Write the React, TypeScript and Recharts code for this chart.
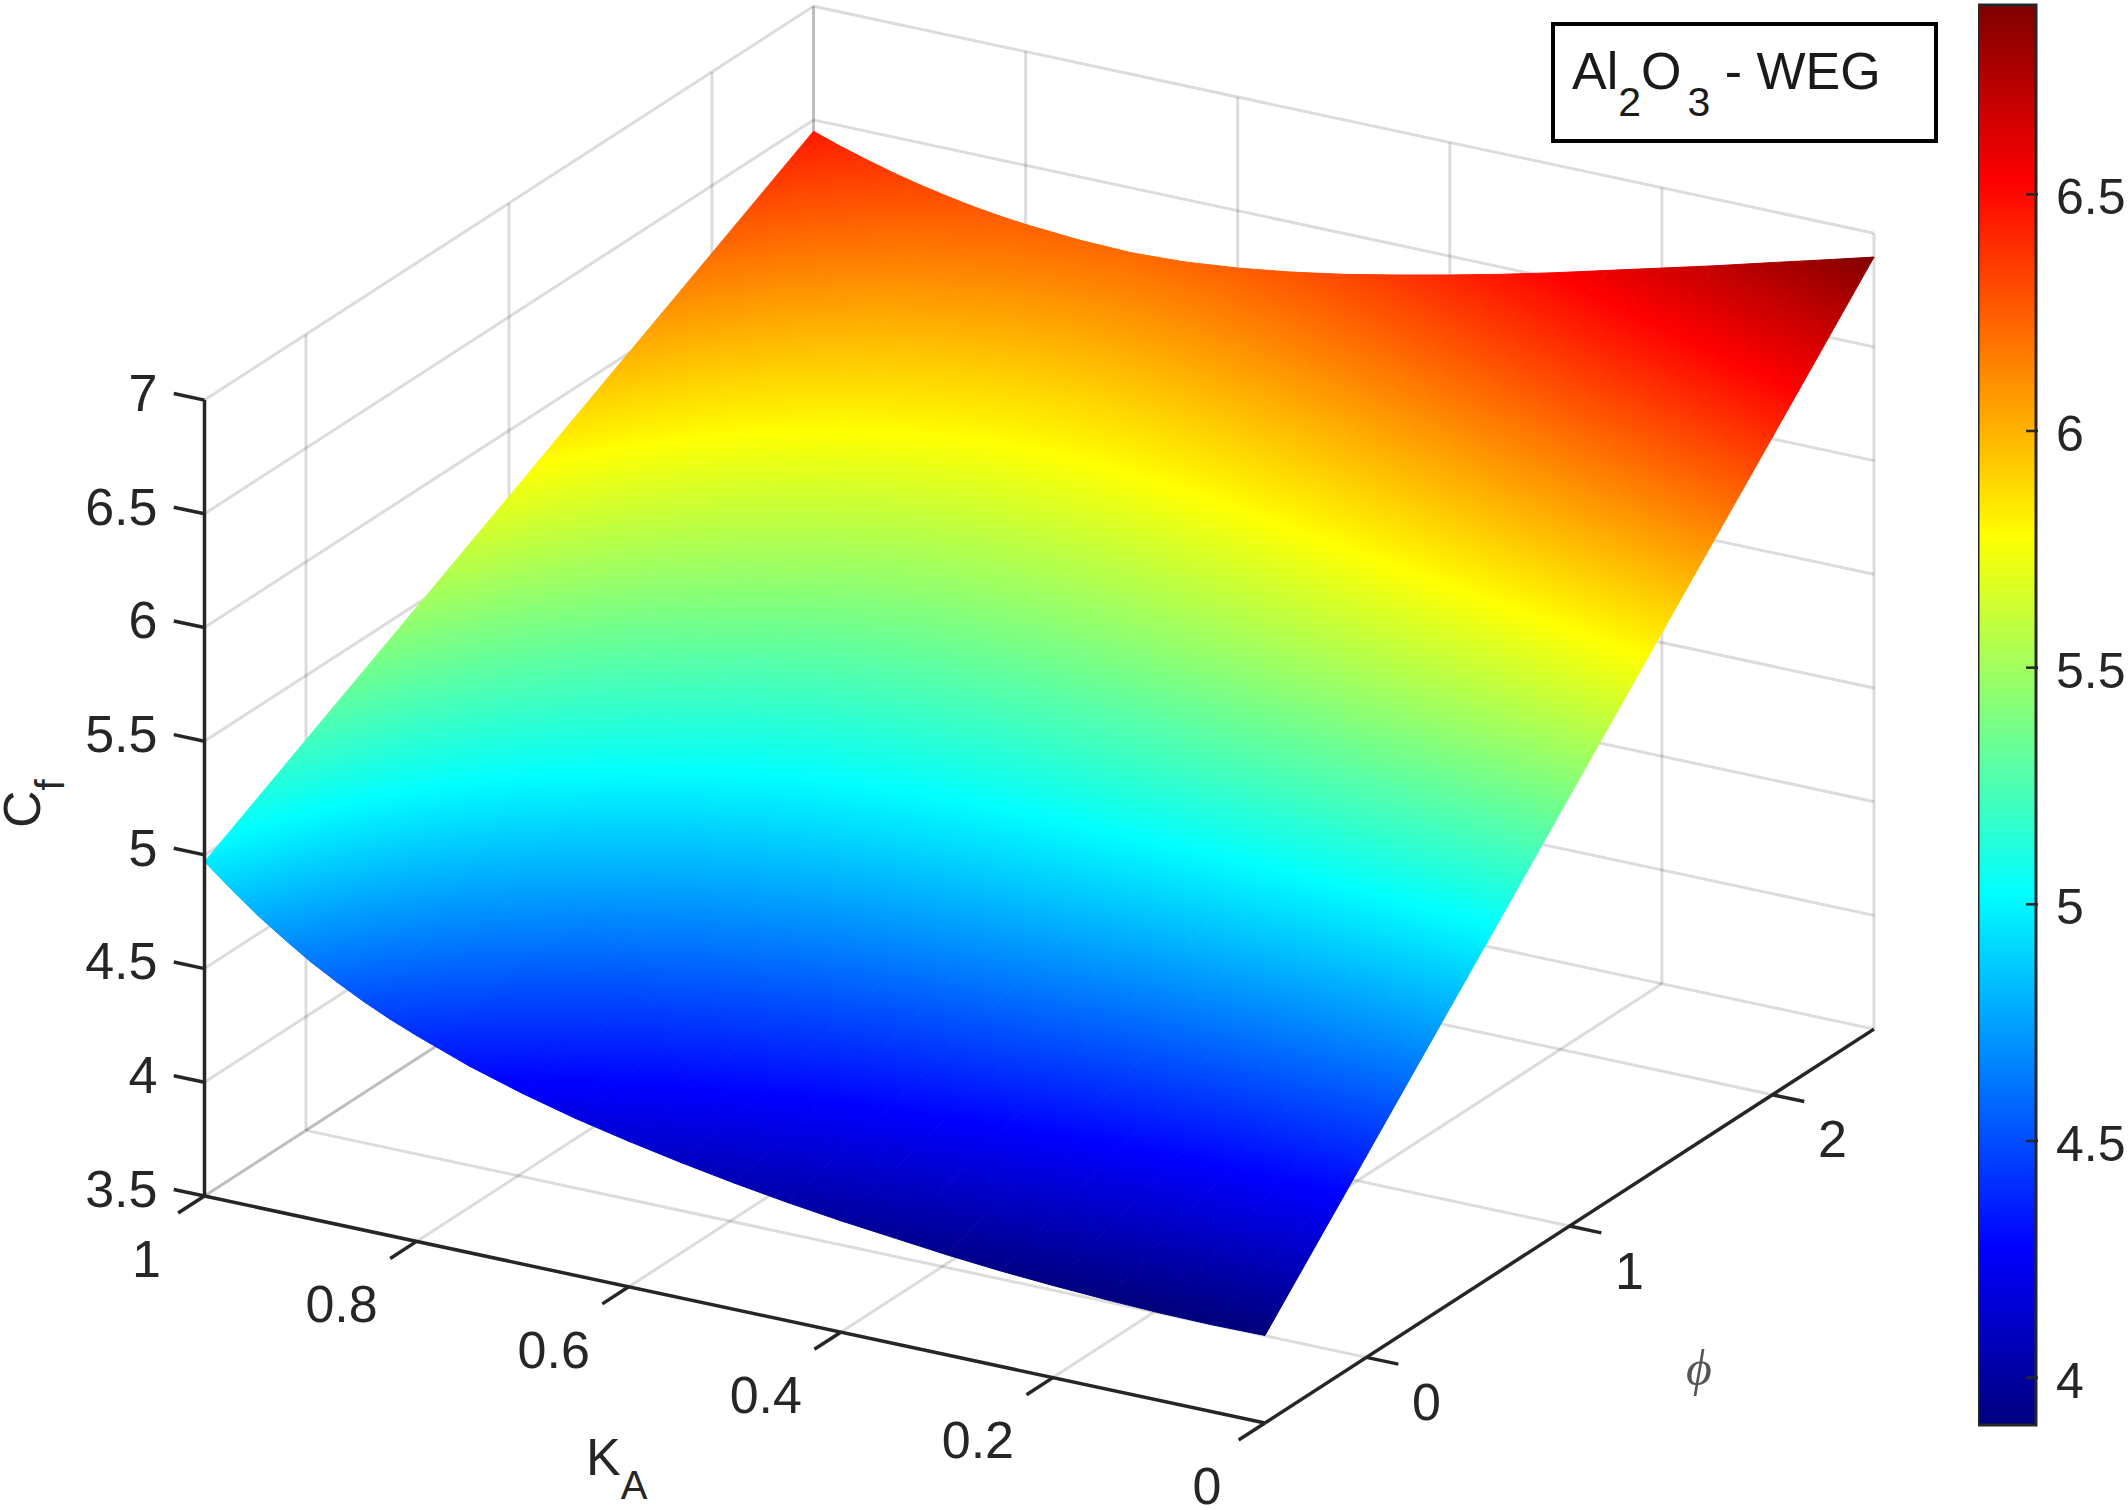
import React from "react";
import { Bar, ComposedChart, Scatter, XAxis, YAxis } from "recharts";

// grid the surface is sampled on, tighter near KA = 1 where the edges bend most
const KA_VALUES = [
  1, 0.975, 0.95, 0.925, 0.9, 0.875, 0.85, 0.825, 0.8, 0.75, 0.7, 0.65, 0.6, 0.55, 0.5, 0.45, 0.4, 0.35, 0.3, 0.25, 0.2,
  0.15, 0.1, 0.05, 0,
];
const PHI_VALUES = [-0.5, 0, 0.5, 1, 1.5, 2, 2.5];

// Cf, one list per phi, ordered like KA_VALUES
const CF_PHI_M05 = [
  4.97, 4.875, 4.785, 4.705, 4.63, 4.565, 4.505, 4.452, 4.405, 4.32, 4.25, 4.19, 4.14, 4.095, 4.055, 4.02, 3.99, 3.965,
  3.94, 3.92, 3.905, 3.893, 3.885, 3.882, 3.885,
];
const CF_PHI_0 = [
  5.217, 5.136, 5.059, 4.992, 4.929, 4.875, 4.825, 4.78, 4.741, 4.667, 4.608, 4.559, 4.521, 4.489, 4.463, 4.441, 4.425,
  4.41, 4.395, 4.385, 4.377, 4.372, 4.373, 4.377, 4.387,
];
const CF_PHI_05 = [
  5.463, 5.396, 5.333, 5.278, 5.228, 5.183, 5.144, 5.108, 5.077, 5.014, 4.965, 4.928, 4.903, 4.883, 4.87, 4.862, 4.859,
  4.854, 4.85, 4.848, 4.849, 4.852, 4.86, 4.871, 4.888,
];
const CF_PHI_1 = [
  5.71, 5.651, 5.595, 5.546, 5.503, 5.464, 5.431, 5.399, 5.373, 5.321, 5.283, 5.258, 5.244, 5.238, 5.238, 5.244, 5.254,
  5.263, 5.274, 5.287, 5.301, 5.318, 5.339, 5.362, 5.39,
];
const CF_PHI_15 = [
  5.957, 5.901, 5.851, 5.806, 5.765, 5.73, 5.699, 5.672, 5.648, 5.608, 5.58, 5.567, 5.565, 5.572, 5.585, 5.605, 5.628,
  5.653, 5.681, 5.711, 5.743, 5.776, 5.812, 5.851, 5.892,
];
const CF_PHI_2 = [
  6.203, 6.154, 6.11, 6.07, 6.034, 6.003, 5.976, 5.953, 5.934, 5.905, 5.888, 5.886, 5.897, 5.916, 5.943, 5.976, 6.013,
  6.053, 6.096, 6.143, 6.19, 6.238, 6.289, 6.34, 6.393,
];
const CF_PHI_25 = [
  6.45, 6.41, 6.375, 6.343, 6.315, 6.291, 6.27, 6.253, 6.24, 6.222, 6.215, 6.225, 6.248, 6.28, 6.32, 6.367, 6.417, 6.47,
  6.527, 6.587, 6.647, 6.707, 6.77, 6.832, 6.895,
];
const CF_ROWS = [CF_PHI_M05, CF_PHI_0, CF_PHI_05, CF_PHI_1, CF_PHI_15, CF_PHI_2, CF_PHI_25];

const KA_TICKS = [1, 0.8, 0.6, 0.4, 0.2, 0];
const PHI_TICKS = [0, 1, 2];
const CF_TICKS = [3.5, 4, 4.5, 5, 5.5, 6, 6.5, 7];
const BAR_TICKS = [4, 4.5, 5, 5.5, 6, 6.5];
const BAR_RANGE = [3.9, 6.9];

const JET = [
  [0, "#00007f"],
  [0.125, "#0000ff"],
  [0.375, "#00ffff"],
  [0.625, "#ffff00"],
  [0.875, "#ff0000"],
  [1, "#7f0000"],
];

const W = 2128;
const H = 1510;
const INK = "#262626";
const FONT = "Liberation Sans";
const PHI_MIN = -0.5;
const PHI_MAX = 2.5;
const CF_MIN = 3.5;
const CF_MAX = 7;

// orthographic view of the 3d box, pixels per data unit
function project(ka: number, phi: number, cf: number) {
  return {
    sx: 204.5 + (1 - ka) * 1060.5 + (phi - PHI_MIN) * 203,
    sy: 1196 + (1 - ka) * 227 - (phi - PHI_MIN) * 131.3 - (cf - CF_MIN) * 227.4,
  };
}

const meshPoints = PHI_VALUES.flatMap((phi, i) =>
  KA_VALUES.map((ka, j) => ({ ...project(ka, phi, CF_ROWS[i][j]), cf: CF_ROWS[i][j] })),
);

// pairs of end points, every two entries make one segment
const pair = (a: number[], b: number[]) => [project(a[0], a[1], a[2]), project(b[0], b[1], b[2])];

const gridSegments = [
  ...CF_TICKS.flatMap((cf) => [
    ...pair([1, PHI_MIN, cf], [1, PHI_MAX, cf]),
    ...pair([1, PHI_MAX, cf], [0, PHI_MAX, cf]),
  ]),
  ...PHI_TICKS.flatMap((phi) => [
    ...pair([1, phi, CF_MIN], [1, phi, CF_MAX]),
    ...pair([1, phi, CF_MIN], [0, phi, CF_MIN]),
  ]),
  ...KA_TICKS.flatMap((ka) => [
    ...pair([ka, PHI_MAX, CF_MIN], [ka, PHI_MAX, CF_MAX]),
    ...pair([ka, PHI_MIN, CF_MIN], [ka, PHI_MAX, CF_MIN]),
  ]),
  ...pair([1, PHI_MAX, CF_MIN], [1, PHI_MAX, CF_MAX]),
];

const axisSegments = [
  ...pair([1, PHI_MIN, CF_MIN], [1, PHI_MIN, CF_MAX]),
  ...pair([1, PHI_MIN, CF_MIN], [0, PHI_MIN, CF_MIN]),
  ...pair([0, PHI_MIN, CF_MIN], [0, PHI_MAX, CF_MIN]),
  ...CF_TICKS.flatMap((cf) => pair([1, PHI_MIN, cf], [1.029, PHI_MIN, cf])),
  ...KA_TICKS.flatMap((ka) => pair([ka, PHI_MIN, CF_MIN], [ka, PHI_MIN - 0.13, CF_MIN])),
  ...PHI_TICKS.flatMap((phi) => pair([0, phi, CF_MIN], [-0.03, phi, CF_MIN])),
];

const shifted = (p: { sx: number; sy: number }, dx: number, dy: number) => ({ sx: p.sx + dx, sy: p.sy + dy });

const tickLabels = [
  ...CF_TICKS.map((cf) => ({
    ...shifted(project(1, PHI_MIN, cf), -47, -8),
    text: String(cf),
    anchor: "end",
  })),
  ...KA_TICKS.map((ka) => ({
    ...shifted(project(ka, PHI_MIN, CF_MIN), ka === 1 || ka === 0 ? -58 : -75, 62),
    text: String(ka),
    anchor: "middle",
  })),
  ...PHI_TICKS.map((phi) => ({
    ...shifted(project(0, phi, CF_MIN), 60, 44),
    text: String(phi),
    anchor: "middle",
  })),
];

const titles = [
  { sx: 586, sy: 1475, main: "K", sub: "A", rotate: 0 },
  { sx: 40, sy: 828, main: "C", sub: "f", rotate: -90 },
];
const phiTitle = [{ sx: 1699, sy: 1370, text: "ϕ" }];

const barData = [{ name: "Cf", range: BAR_RANGE }];

const noSymbol = () => <g />;

function SegmentLines({ points, color, width, opacity = 1 }: any) {
  const lines = [];
  for (let i = 0; i + 1 < points.length; i += 2) {
    lines.push(
      <line
        key={i}
        x1={points[i].x}
        y1={points[i].y}
        x2={points[i + 1].x}
        y2={points[i + 1].y}
        stroke={color}
        strokeOpacity={opacity}
        strokeWidth={width}
        strokeLinecap="butt"
      />,
    );
  }
  return <g>{lines}</g>;
}

// one linear gradient per triangle: Cf is linear on a triangle, so the colormap can
// be laid out exactly along its screen-space slope and neighbours line up
function triangleGradient(id: string, tri: { x: number; y: number; cf: number }[]) {
  const [p, q, r] = tri;
  const det = (q.x - p.x) * (r.y - p.y) - (r.x - p.x) * (q.y - p.y);
  const a = ((q.cf - p.cf) * (r.y - p.y) - (r.cf - p.cf) * (q.y - p.y)) / det;
  const b = ((q.x - p.x) * (r.cf - p.cf) - (r.x - p.x) * (q.cf - p.cf)) / det;
  const g2 = a * a + b * b;
  const at = (v: number) => ({
    x: p.x + (a * (v - p.cf)) / g2,
    y: p.y + (b * (v - p.cf)) / g2,
  });
  const start = at(BAR_RANGE[0]);
  const end = at(BAR_RANGE[1]);
  return (
    <linearGradient
      key={id}
      id={id}
      href="#jetMap"
      gradientUnits="userSpaceOnUse"
      x1={start.x}
      y1={start.y}
      x2={end.x}
      y2={end.y}
    />
  );
}

function SurfaceMesh({ points }: any) {
  const nKa = KA_VALUES.length;
  const nodes = points.map((pt: any, i: number) => ({ x: pt.x, y: pt.y, cf: meshPoints[i].cf }));
  const defs: any[] = [];
  const polys: any[] = [];
  for (let i = 0; i + 1 < PHI_VALUES.length; i++) {
    for (let j = 0; j + 1 < nKa; j++) {
      const a = nodes[i * nKa + j];
      const b = nodes[i * nKa + j + 1];
      const c = nodes[(i + 1) * nKa + j + 1];
      const d = nodes[(i + 1) * nKa + j];
      [
        [a, b, c],
        [a, c, d],
      ].forEach((tri, k) => {
        const id = `tri-${i}-${j}-${k}`;
        defs.push(triangleGradient(id, tri));
        polys.push(
          <polygon
            key={id}
            points={tri.map((n) => `${n.x},${n.y}`).join(" ")}
            fill={`url(#${id})`}
            stroke={`url(#${id})`}
            strokeWidth={1}
            strokeLinejoin="round"
          />,
        );
      });
    }
  }
  return (
    <g>
      <defs>{defs}</defs>
      {polys}
    </g>
  );
}

function TickText({ cx, cy, payload }: any) {
  return (
    <text x={cx} y={cy} dy="0.36em" textAnchor={payload.anchor} fontFamily={FONT} fontSize={52} fill={INK}>
      {payload.text}
    </text>
  );
}

function TitleText({ cx, cy, payload }: any) {
  return (
    <text
      x={cx}
      y={cy}
      fontFamily={FONT}
      fontSize={52}
      fill={INK}
      transform={payload.rotate ? `rotate(${payload.rotate} ${cx} ${cy})` : undefined}
    >
      {payload.main}
      <tspan fontSize={40} dy={24}>
        {payload.sub}
      </tspan>
    </text>
  );
}

function PhiText({ cx, cy, payload }: any) {
  return (
    <text
      x={cx}
      y={cy}
      dy="0.3em"
      textAnchor="middle"
      fontFamily="Liberation Serif"
      fontStyle="italic"
      fontSize={50}
      fill="#555555"
    >
      {payload.text}
    </text>
  );
}

function BarTick({ x, y, payload }: any) {
  return (
    <g>
      <line x1={x - 12} y1={y} x2={x} y2={y} stroke={INK} strokeWidth={2.5} />
      <text x={x + 18} y={y + 2} dy="0.36em" fontFamily={FONT} fontSize={50} fill={INK}>
        {payload.value}
      </text>
    </g>
  );
}

function ColorBar() {
  return (
    <ComposedChart
      width={150}
      height={H}
      data={barData}
      margin={{ top: 5, right: 0, bottom: 85, left: 0 }}
      barCategoryGap={0}
    >
      <defs>
        <linearGradient id="jetBar" x1="0" y1="1" x2="0" y2="0">
          {JET.map(([o, c]) => (
            <stop key={o} offset={o} stopColor={c as string} />
          ))}
        </linearGradient>
      </defs>
      <XAxis dataKey="name" hide />
      <Bar dataKey="range" fill="url(#jetBar)" stroke={INK} strokeWidth={3} isAnimationActive={false} />
      <YAxis
        orientation="right"
        type="number"
        width={92}
        domain={BAR_RANGE}
        ticks={BAR_TICKS}
        tick={<BarTick />}
        tickLine={false}
        axisLine={false}
        tickSize={0}
        interval={0}
      />
    </ComposedChart>
  );
}

export default function App() {
  return (
    <div style={{ position: "absolute", left: 0, top: 0, width: W, height: H, background: "#fff", overflow: "hidden" }}>
      <ComposedChart width={W} height={H} margin={{ top: 0, right: 0, bottom: 0, left: 0 }}>
        <defs>
          <linearGradient id="jetMap">
            {JET.map(([o, c]) => (
              <stop key={o} offset={o} stopColor={c as string} />
            ))}
          </linearGradient>
        </defs>
        <XAxis type="number" dataKey="sx" domain={[0, W]} hide />
        <YAxis type="number" dataKey="sy" domain={[0, H]} reversed hide />
        <Scatter
          data={gridSegments}
          shape={noSymbol}
          line={(p: any) => <SegmentLines points={p.points} color={INK} opacity={0.16} width={3} />}
          isAnimationActive={false}
        />
        <Scatter
          data={meshPoints}
          shape={noSymbol}
          line={(p: any) => <SurfaceMesh points={p.points} />}
          isAnimationActive={false}
        />
        <Scatter
          data={axisSegments}
          shape={noSymbol}
          line={(p: any) => <SegmentLines points={p.points} color={INK} width={3.5} />}
          isAnimationActive={false}
        />
        <Scatter data={tickLabels} shape={TickText} isAnimationActive={false} />
        <Scatter data={titles} shape={TitleText} isAnimationActive={false} />
        <Scatter data={phiTitle} shape={PhiText} isAnimationActive={false} />
      </ComposedChart>

      <div style={{ position: "absolute", left: 1978, top: 0 }}>
        <ColorBar />
      </div>

      <div
        style={{
          position: "absolute",
          left: 1551,
          top: 22,
          width: 387,
          height: 121,
          boxSizing: "border-box",
          border: "4px solid #000",
          background: "#fff",
          fontFamily: FONT,
          fontSize: 52,
          color: "#1a1a1a",
          whiteSpace: "pre",
          paddingLeft: 17,
          lineHeight: "90px",
        }}
      >
        Al
        <span style={{ fontSize: 41, verticalAlign: -27, lineHeight: 0 }}>2</span>O
        <span style={{ fontSize: 41, verticalAlign: -27, lineHeight: 0, marginLeft: 6 }}>3</span>
        {" - WEG"}
      </div>
    </div>
  );
}
